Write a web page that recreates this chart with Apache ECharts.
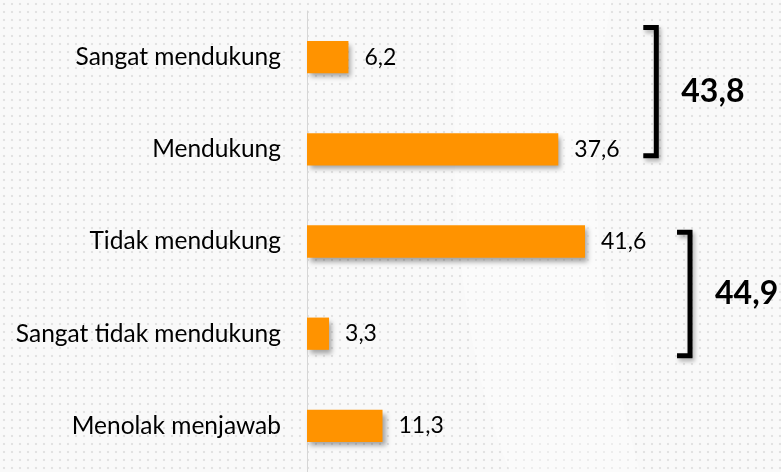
<!DOCTYPE html>
<html>
<head>
<meta charset="utf-8">
<script src="https://cdn.jsdelivr.net/npm/echarts@6/dist/echarts.min.js"></script>
<style>
  html, body { margin: 0; padding: 0; }
  #chart {
    width: 781px; height: 472px;
    background-color: #f9f9f9;
    background-image: radial-gradient(circle, #e2e2e2 1px, transparent 1.6px);
    background-size: 8px 8px;
  }
</style>
</head>
<body>
<div id="chart"></div>
<script>
const categories = ['Sangat mendukung', 'Mendukung', 'Tidak mendukung', 'Sangat tidak mendukung', 'Menolak menjawab'];
const values = [6.2, 37.6, 41.6, 3.3, 11.3];
const groupStart = [0, 2];
const groupEnd = [1, 3];

const fmt = v => v.toFixed(1).replace('.', ',');
const FONT = 'Lato';

const chart = echarts.init(document.getElementById('chart'), null, { renderer: 'canvas' });

const option = {
  backgroundColor: 'transparent',
  animation: false,
  grid: { left: 307, top: 11, right: 73, bottom: -5, containLabel: false },
  xAxis: {
    type: 'value', min: 0, max: 60,
    axisLine: { show: false }, axisTick: { show: false },
    axisLabel: { show: false }, splitLine: { show: false }
  },
  yAxis: {
    type: 'category', data: categories, inverse: true,
    axisLine: { show: true, lineStyle: { color: '#d6d6d6', width: 1 } },
    axisTick: { show: false },
    axisLabel: { margin: 26, color: '#000', fontFamily: FONT, fontSize: 24.5 }
  },
  series: [{
    type: 'bar', data: values, barWidth: '35%',
    itemStyle: {
      color: '#ff9300',
      shadowColor: 'rgba(0,0,0,0.35)', shadowBlur: 5, shadowOffsetX: 3, shadowOffsetY: 4
    },
    label: {
      show: true, position: 'right', distance: 16,
      color: '#000', fontFamily: FONT, fontSize: 23,
      formatter: p => fmt(p.value)
    }
  }]
};
chart.setOption(option);

function bez(p0, p1, p2, p3, n) {
  const pts = [];
  for (let i = 0; i <= n; i++) {
    const t = i / n, u = 1 - t;
    pts.push([
      u*u*u*p0[0] + 3*u*u*t*p1[0] + 3*u*t*t*p2[0] + t*t*t*p3[0],
      u*u*u*p0[1] + 3*u*u*t*p1[1] + 3*u*t*t*p2[1] + t*t*t*p3[1]
    ]);
  }
  return pts;
}

const graphics = [];
const lensPts = bez([460,0],[448,150],[452,330],[510,472],24)
  .concat(bez([640,472],[600,330],[580,150],[612,0],24));
graphics.push({
  type: 'polygon', z: -10, silent: true,
  shape: { points: lensPts },
  style: { fill: 'rgba(255,255,255,0.4)' }
});
const y0 = chart.convertToPixel({ yAxisIndex: 0 }, 0);
const y1 = chart.convertToPixel({ yAxisIndex: 0 }, 1);
const band = y1 - y0;
const topOff = [-0.32, -0.10];
const botOff = [0.07, 0.24];
const xOff = [98, 105];
groupStart.forEach((s, i) => {
  const e = groupEnd[i];
  let total = 0, mx = 0;
  for (let k = s; k <= e; k++) { total += values[k]; mx = Math.max(mx, values[k]); }
  const xv = chart.convertToPixel({ xAxisIndex: 0 }, mx) + xOff[i];
  const yt = chart.convertToPixel({ yAxisIndex: 0 }, s) + topOff[i] * band;
  const yb = chart.convertToPixel({ yAxisIndex: 0 }, e) + botOff[i] * band;
  graphics.push({
    type: 'polyline', z: 10,
    shape: { points: [[xv - 13, yt], [xv, yt], [xv, yb], [xv - 13, yb]] },
    style: { stroke: '#000', lineWidth: 5, fill: null, lineJoin: 'miter',
             shadowColor: 'rgba(0,0,0,0.3)', shadowBlur: 4, shadowOffsetX: 2, shadowOffsetY: 3 }
  });
  graphics.push({
    type: 'text', z: 10,
    x: xv + 25, y: (yt + yb) / 2,
    style: { text: fmt(total), fill: '#000', font: 'bold 32px ' + FONT,
             textAlign: 'left', textVerticalAlign: 'middle' }
  });
});
chart.setOption({ graphic: graphics });
</script>
</body>
</html>
